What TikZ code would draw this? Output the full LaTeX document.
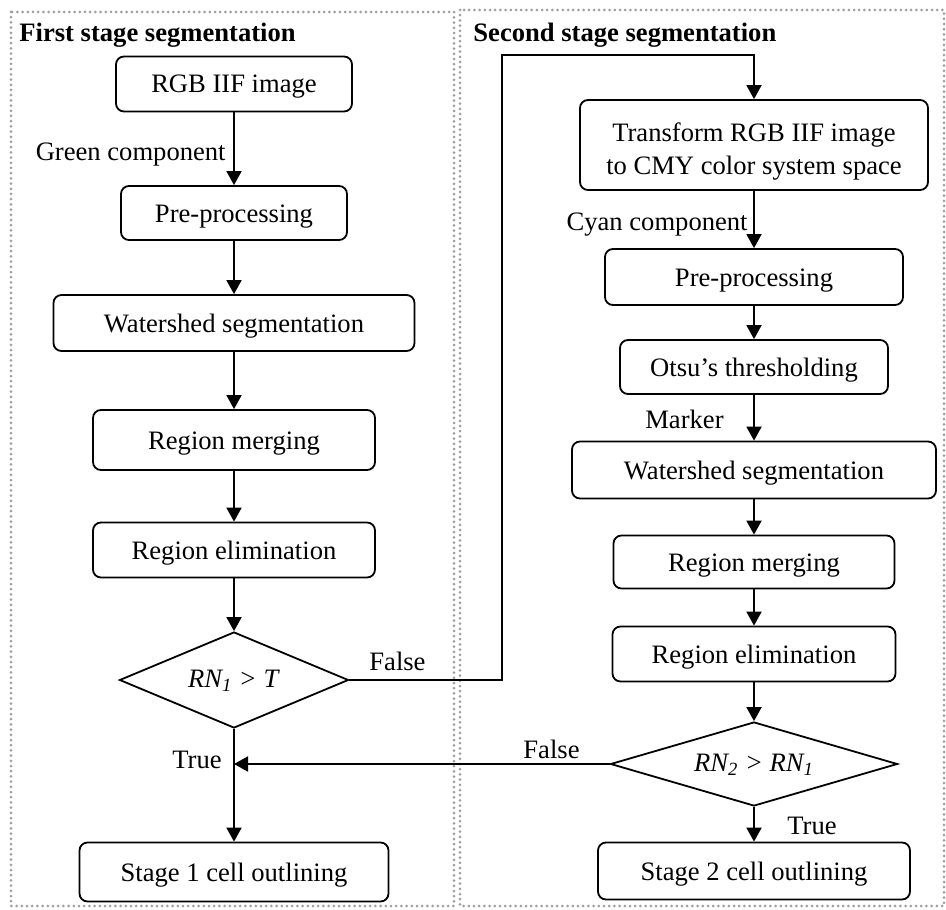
\documentclass[tikz,border=0pt]{standalone}
\usepackage{fontspec}
\setmainfont{Liberation Serif}
\usetikzlibrary{arrows.meta,shapes.geometric}
\begin{document}
\begin{tikzpicture}[x=0.5pt,y=-0.5pt,
  every node/.style={font=\fontsize{13.3}{16.3}\selectfont},
  box/.style={draw,rounded corners=4pt,line width=0.9pt,inner sep=0pt,align=center},
  boxone/.style={box,text height=9pt,text depth=0pt},
  dia/.style={draw,diamond,shape aspect=2.4,line width=0.9pt,inner sep=0pt,text height=7pt,text depth=0pt},
  arr/.style={line width=0.9pt,-{Triangle[length=7pt,width=7.5pt]}},
  frame/.style={draw=gray!75,line width=1.5pt,dash pattern=on 0pt off 2.6pt,line cap=round},
  lab/.style={inner sep=0pt}]
\useasboundingbox (0,0) rectangle (946,909);
\draw[frame] (11,12) rectangle (454,906);
\draw[frame] (460,10) rectangle (944,906);

\node[lab,anchor=base west,font=\fontsize{13.3}{16.3}\selectfont\bfseries] (t1) at (19,42) {First stage segmentation};
\node[lab,anchor=base west,font=\fontsize{13.3}{16.3}\selectfont\bfseries] (t2) at (473,42) {Second stage segmentation};

% left column
\node[boxone,minimum width=118pt,minimum height=27.5pt] (rgb) at (234,84) {RGB IIF image};
\node[boxone,minimum width=113pt,minimum height=27pt] (pre1) at (234,213) {Pre-processing};
\node[boxone,minimum width=180.5pt,minimum height=28pt] (ws1) at (234,323) {Watershed segmentation};
\node[boxone,minimum width=141pt,minimum height=30pt] (rm1) at (234,440) {Region merging};
\node[boxone,minimum width=141pt,minimum height=27.5pt] (re1) at (234,550) {Region elimination};
\node[dia,minimum width=114.5pt,minimum height=48pt] (d1) at (234,680) {\textit{RN\textsubscript{1} > T}};
\node[boxone,minimum width=154.5pt,minimum height=29.5pt] (st1) at (234,872) {Stage 1 cell outlining};

% right column
\node[box,minimum width=174pt,minimum height=45pt,text height=29.6pt,text depth=0pt] (tr) at (754,145) {Transform RGB IIF image\\to CMY color system space};
\node[boxone,minimum width=149pt,minimum height=28pt] (pre2) at (754,277) {Pre-processing};
\node[boxone,minimum width=134pt,minimum height=27pt] (otsu) at (754,367) {Otsu’s thresholding};
\node[boxone,minimum width=182pt,minimum height=28.5pt] (ws2) at (754,470) {Watershed segmentation};
\node[boxone,minimum width=140.5pt,minimum height=26.5pt] (rm2) at (754,562) {Region merging};
\node[boxone,minimum width=141.5pt,minimum height=27.5pt] (re2) at (754,654) {Region elimination};
\node[dia,minimum width=143.5pt,minimum height=42pt] (d2) at (754,764) {\textit{RN\textsubscript{2} > RN\textsubscript{1}}};
\node[boxone,minimum width=156pt,minimum height=28.5pt] (st2) at (754,871) {Stage 2 cell outlining};

% connectors left
\draw[arr] (rgb) -- (pre1);
\draw[arr] (pre1) -- (ws1);
\draw[arr] (ws1) -- (rm1);
\draw[arr] (rm1) -- (re1);
\draw[arr] (re1) -- (d1);
\draw[arr] (d1) -- (st1);
\coordinate (f1) at (502,55);
\draw[arr] (d1.east) -| (f1) -| (tr.north);
\draw[arr] (d2.west) -- (d2.west -| d1.south);

% connectors right
\draw[arr] (tr) -- (pre2);
\draw[arr] (pre2) -- (otsu);
\draw[arr] (otsu) -- (ws2);
\draw[arr] (ws2) -- (rm2);
\draw[arr] (rm2) -- (re2);
\draw[arr] (re2) -- (d2);
\draw[arr] (d2) -- (st2);

% labels
\node[lab,anchor=base east] (lg) at (226,161) {Green component};
\node[lab,anchor=base west] (lf1) at (369,670) {False};
\node[lab,anchor=base east] (lt1) at (222,768) {True};
\node[lab,anchor=base east] (lc) at (748,230) {Cyan component};
\node[lab,anchor=base east] (lm) at (724,428) {Marker};
\node[lab,anchor=base west] (lf2) at (523,758) {False};
\node[lab,anchor=base west] (lt2) at (787,834) {True};
\end{tikzpicture}
\end{document}
